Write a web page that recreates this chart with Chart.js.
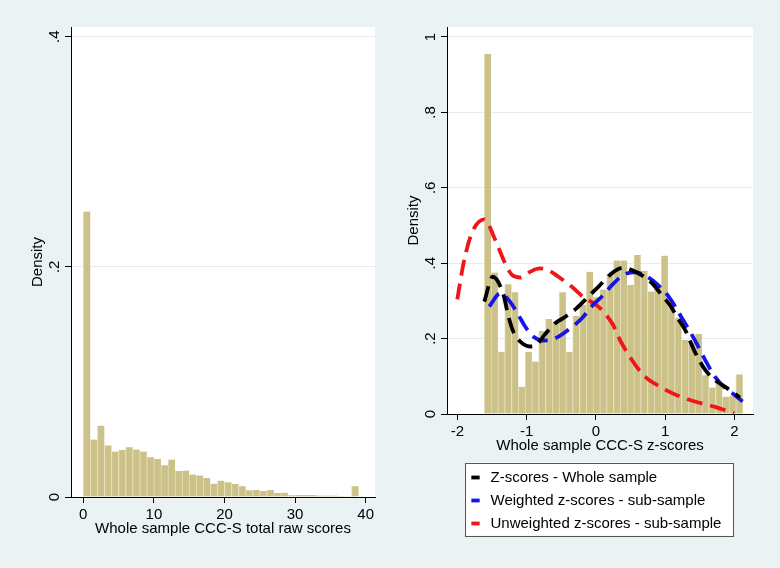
<!DOCTYPE html>
<html>
<head>
<meta charset="utf-8">
<script src="https://cdn.jsdelivr.net/npm/chart.js@4.4.1/dist/chart.umd.min.js"></script>
<style>
  html, body { margin: 0; padding: 0; background: #eaf2f3; }
  #wrap { position: relative; width: 780px; height: 568px; overflow: hidden; }
  canvas { position: absolute; top: 0; }
  #rawChart { left: 0; }
  #zChart { left: 390px; }
</style>
</head>
<body>
<div id="wrap">
  <canvas id="rawChart" width="390" height="568"></canvas>
  <canvas id="zChart" width="390" height="568"></canvas>
</div>
<script>
// ---------- data ----------

// left panel: raw total scores, bins of width 1 (midpoints)
const rawBinMid = [0.5, 1.5, 2.5, 3.5, 4.5, 5.5, 6.5, 7.5, 8.5, 9.5, 10.5, 11.5, 12.5,
    13.5, 14.5, 15.5, 16.5, 17.5, 18.5, 19.5, 20.5, 21.5, 22.5, 23.5, 24.5, 25.5,
    26.5, 27.5, 28.5, 29.5, 30.5, 31.5, 32.5, 33.5, 34.5, 35.5, 36.5, 37.5, 38.5];
const rawDensity = [0.248, 0.050, 0.062, 0.0448, 0.0395, 0.041, 0.0433, 0.0413, 0.0395,
    0.0346, 0.0331, 0.0276, 0.0326, 0.0227, 0.023, 0.0195, 0.0186, 0.0166, 0.0116,
    0.0142, 0.0128, 0.0113, 0.0093, 0.0058, 0.0061, 0.0052, 0.0061, 0.0035, 0.0038,
    0.0015, 0.0017, 0.0017, 0.0017, 0.0012, 0.0012, 0.0012, 0.0009, 0.0006, 0.0093];
const rawXTicks = [0, 10, 20, 30, 40];
const rawYTicks = [0, 0.2, 0.4];

// right panel: z-score histogram (bin midpoints)
const zBinMid = [-1.561, -1.463, -1.365, -1.266, -1.168, -1.070, -0.972, -0.874, -0.775,
    -0.677, -0.579, -0.481, -0.383, -0.284, -0.186, -0.088, 0.010, 0.108, 0.207, 0.305,
    0.403, 0.501, 0.599, 0.698, 0.796, 0.894, 0.992, 1.090, 1.189, 1.287, 1.385, 1.483,
    1.581, 1.680, 1.778, 1.876, 1.974, 2.072];
const zDensity = [0.955, 0.375, 0.165, 0.344, 0.323, 0.072, 0.165, 0.139, 0.22, 0.252,
    0.245, 0.323, 0.165, 0.26, 0.29, 0.377, 0.31, 0.33, 0.37, 0.407, 0.407, 0.342, 0.422,
    0.38, 0.325, 0.34, 0.42, 0.298, 0.255, 0.196, 0.19, 0.212, 0.103, 0.07, 0.082, 0.046,
    0.048, 0.105];
const zXTicks = [-2, -1, 0, 1, 2];
const zYTicks = [0, 0.2, 0.4, 0.6, 0.8, 1];

// kernel density curves
const wholeZ = [-1.61, -1.49, -1.34, -1.26, -1.19, -1.09, -0.95, -0.85, -0.73, -0.59, -0.44,
    -0.28, -0.11, 0.04, 0.23, 0.4, 0.52, 0.69, 0.81, 0.95, 1.07, 1.19, 1.29, 1.43, 1.58,
    1.72, 1.87, 2.08];
const wholeD = [0.298, 0.364, 0.32, 0.258, 0.218, 0.192, 0.179, 0.185, 0.212, 0.24, 0.258,
    0.28, 0.311, 0.338, 0.373, 0.388, 0.382, 0.365, 0.347, 0.316, 0.289, 0.252, 0.223,
    0.165, 0.117, 0.09, 0.072, 0.044];

const weightedZ = [-1.54, -1.38, -1.24, -1.12, -1.02, -0.9, -0.76, -0.66, -0.54, -0.37,
    -0.2, -0.06, 0.11, 0.25, 0.4, 0.57, 0.735, 0.9, 1.07, 1.22, 1.43, 1.58, 1.72, 1.87,
    2.01, 2.12];
const weightedD = [0.285, 0.32, 0.298, 0.263, 0.232, 0.205, 0.195, 0.196, 0.205, 0.227,
    0.254, 0.285, 0.316, 0.345, 0.369, 0.376, 0.365, 0.342, 0.307, 0.262, 0.196, 0.143,
    0.099, 0.068, 0.05, 0.033];

const unweightedZ = [-2.0, -1.91, -1.79, -1.61, -1.46, -1.31, -1.21, -1.09, -0.95, -0.81,
    -0.69, -0.54, -0.35, -0.16, -0.01, 0.13, 0.25, 0.35, 0.49, 0.69, 0.93, 1.17, 1.43,
    1.72, 2.0];
const unweightedD = [0.304, 0.40, 0.48, 0.516, 0.465, 0.40, 0.369, 0.362, 0.377, 0.386,
    0.382, 0.364, 0.338, 0.307, 0.292, 0.267, 0.236, 0.196, 0.152, 0.103, 0.072, 0.05,
    0.033, 0.019, 0.002];

// ---------- helpers ----------

const BAR_FILL = "rgb(204,194,137)";
const BAR_EDGE = "rgb(226,220,182)";
const GRID = "rgb(228,236,238)";

Chart.defaults.font.family = "'Liberation Sans', Arial, sans-serif";
Chart.defaults.font.size = 15;
Chart.defaults.color = "#000";

const toPoints = (xs, ys) => xs.map((x, i) => ({ x: x, y: ys[i] }));

// stata style labels: .2 instead of 0.2
const densityLabel = (v) => (v === 0 ? "0" : String(+v.toFixed(1)).replace(/^0\./, "."));

const plotBackground = {
    id: "plotBackground",
    beforeDraw(chart) {
        const { ctx, chartArea: a } = chart;
        ctx.save();
        ctx.fillStyle = "#fff";
        ctx.fillRect(a.left, a.top, a.width, a.height);
        ctx.restore();
    },
};

// legend: left aligned block with a framed white box
const legendFrame = {
    id: "legendFrame",
    afterLayout(chart) {
        chart.legend.left += 13;
        chart.legend.right += 13;
    },
    beforeDraw(chart) {
        const boxes = chart.legend.legendHitBoxes;
        if (!boxes || !boxes.length) return;
        const left = Math.min(...boxes.map((b) => b.left)) - 3;
        const right = Math.max(...boxes.map((b) => b.left + b.width)) + 12;
        const first = boxes[0];
        const last = boxes[boxes.length - 1];
        const top = first.top + first.height / 2 - 15;
        const bottom = last.top + last.height / 2 + 12;
        const ctx = chart.ctx;
        ctx.save();
        ctx.fillStyle = "#fff";
        ctx.fillRect(left, top, right - left, bottom - top);
        ctx.strokeStyle = "#555";
        ctx.lineWidth = 1;
        ctx.strokeRect(Math.round(left) + 0.5, Math.round(top) + 0.5,
            Math.round(right - left), Math.round(bottom - top));
        ctx.restore();
    },
};

function yAxis(max, ticks, width, titlePad) {
    return {
        min: 0,
        max: max,
        afterFit: (s) => { s.width = width; },
        afterBuildTicks: (s) => { s.ticks = ticks.map((v) => ({ value: v })); },
        border: { color: "#000", width: 1 },
        grid: {
            color: (c) => (c.tick && c.tick.value === 0 ? "rgba(0,0,0,0)" : GRID),
            tickColor: "#000",
            tickLength: 6,
        },
        ticks: {
            minRotation: 90,
            maxRotation: 90,
            crossAlign: "center",
            padding: 4,
            callback: densityLabel,
        },
        title: { display: true, text: "Density", padding: { top: titlePad, bottom: 0 } },
    };
}

function xAxis(min, max, ticks, height, title, titlePad) {
    return {
        type: "linear",
        min: min,
        max: max,
        offset: false,
        afterFit: (s) => { s.height = height; },
        afterBuildTicks: (s) => { s.ticks = ticks.map((v) => ({ value: v })); },
        border: { color: "#000", width: 1 },
        grid: { offset: false, drawOnChartArea: false, tickColor: "#000", tickLength: 6 },
        ticks: { padding: 3, maxRotation: 0, callback: (v) => String(v) },
        title: { display: true, text: title, padding: { top: 0, bottom: titlePad } },
    };
}

// ---------- left: raw scores ----------

new Chart(document.getElementById("rawChart"), {
    type: "bar",
    data: {
        datasets: [
            {
                label: "Raw scores",
                data: toPoints(rawBinMid, rawDensity),
                backgroundColor: BAR_FILL,
                borderColor: BAR_EDGE,
                borderWidth: { left: 1, top: 0, right: 0, bottom: 0 },
                barPercentage: 1,
                categoryPercentage: 1,
            },
        ],
    },
    options: {
        responsive: false,
        animation: false,
        devicePixelRatio: 1,
        layout: { padding: { top: 27, right: 15, bottom: 0, left: 0 } },
        scales: {
            x: xAxis(-1.74, 41.32, rawXTicks, 71, "Whole sample CCC-S total raw scores", 30),
            y: yAxis(0.4084, rawYTicks, 71, 29),
        },
        plugins: { legend: { display: false }, tooltip: { enabled: false } },
    },
    plugins: [plotBackground],
});

// ---------- right: z-scores with kernel densities ----------

const curveStyle = {
    type: "line",
    borderWidth: 3.8,
    borderDash: [16, 8],
    pointRadius: 0,
    fill: false,
    cubicInterpolationMode: "monotone",
};

new Chart(document.getElementById("zChart"), {
    type: "bar",
    data: {
        datasets: [
            {
                type: "bar",
                label: "Histogram",
                data: toPoints(zBinMid, zDensity),
                backgroundColor: BAR_FILL,
                borderColor: BAR_EDGE,
                borderWidth: { left: 1, top: 0, right: 0, bottom: 0 },
                barPercentage: 1,
                categoryPercentage: 1,
                order: 4,
            },
            Object.assign({}, curveStyle, {
                label: "Z-scores - Whole sample",
                data: toPoints(wholeZ, wholeD),
                borderColor: "#000",
                order: 1,
            }),
            Object.assign({}, curveStyle, {
                label: "Weighted z-scores - sub-sample",
                data: toPoints(weightedZ, weightedD),
                borderColor: "rgb(20,20,235)",
                order: 2,
            }),
            Object.assign({}, curveStyle, {
                label: "Unweighted z-scores - sub-sample",
                data: toPoints(unweightedZ, unweightedD),
                borderColor: "rgb(238,22,22)",
                order: 3,
            }),
        ],
    },
    options: {
        responsive: false,
        animation: false,
        devicePixelRatio: 1,
        layout: { padding: { top: 27, right: 27, bottom: 27, left: 0 } },
        scales: {
            x: xAxis(-2.149, 2.27, zXTicks, 48, "Whole sample CCC-S z-scores", 7),
            y: yAxis(1.0265, zYTicks, 57, 15),
        },
        plugins: {
            tooltip: { enabled: false },
            legend: {
                position: "bottom",
                align: "start",
                fullSize: false,
                labels: {
                    usePointStyle: true,
                    pointStyle: "line",
                    boxHeight: 5.9,
                    padding: 8,
                    filter: (item) => item.datasetIndex > 0,
                },
            },
        },
    },
    plugins: [plotBackground, legendFrame],
});
</script>
</body>
</html>
